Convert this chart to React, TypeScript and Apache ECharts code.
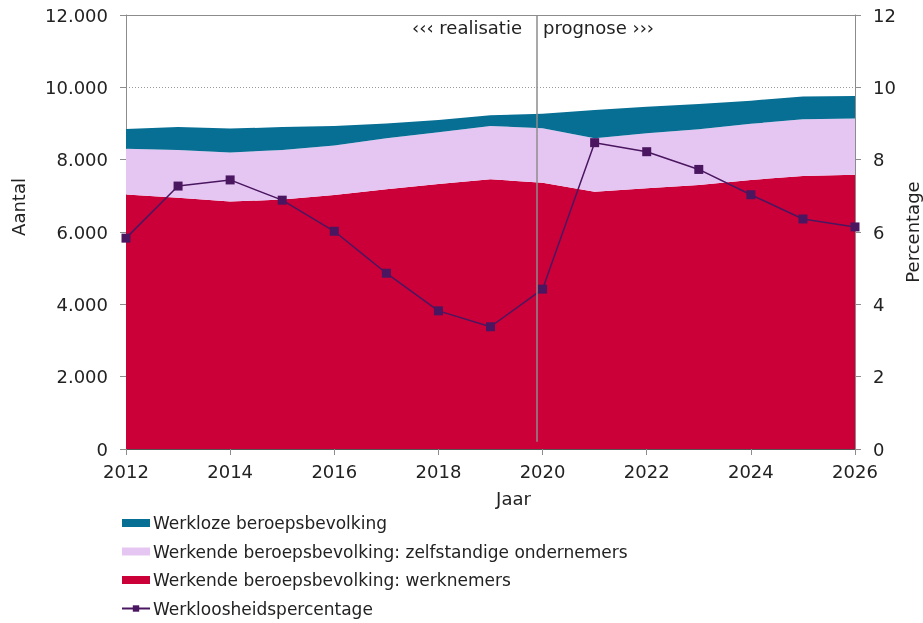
import React, { useEffect, useRef } from "react";
import * as echarts from "echarts";

const years = ["2012", "2013", "2014", "2015", "2016", "2017", "2018", "2019", "2020", "2021", "2022", "2023", "2024", "2025", "2026"];
const werknemers = [7040, 6950, 6840, 6900, 7020, 7180, 7330, 7460, 7360, 7110, 7210, 7300, 7440, 7550, 7580];
const zelfstandigen = [1260, 1320, 1360, 1370, 1370, 1410, 1430, 1470, 1510, 1480, 1520, 1540, 1550, 1570, 1560];
const werklozen = [550, 630, 660, 630, 540, 410, 340, 300, 400, 780, 730, 700, 640, 630, 620];
const percentage = [5.83, 7.27, 7.44, 6.88, 6.02, 4.86, 3.82, 3.38, 4.42, 8.47, 8.22, 7.73, 7.03, 6.36, 6.14];
const dividerYear = 2019.88;
const seriesNames = [
  "Werkloze beroepsbevolking",
  "Werkende beroepsbevolking: zelfstandige ondernemers",
  "Werkende beroepsbevolking: werknemers",
  "Werkloosheidspercentage",
];
const annotations = ["‹‹‹ realisatie", "prognose ›››"];
const leftTicks = { min: 0, max: 12000, interval: 2000 };
const rightTicks = { min: 0, max: 12, interval: 2 };

const FONT = "DejaVu Sans";
const TXT = "#222";
const AX = "#8c8c8c";

export default function App() {
  const ref = useRef<HTMLDivElement>(null);
  useEffect(() => {
    if (!ref.current) return;
    const chart = echarts.init(ref.current, undefined, { renderer: "svg" });
    const fmtThousands = (v: number) =>
      String(v).replace(/\B(?=(\d{3})+(?!\d))/g, ".");
    const firstYear = Number(years[0]);
    const lastYear = Number(years[years.length - 1]);
    chart.setOption({
      animation: false,
      textStyle: { fontFamily: FONT, color: TXT },
      grid: {
        left: 126,
        right: 68,
        top: 15,
        bottom: 174,
        containLabel: false,
        outerBoundsMode: "none",
      },
      xAxis: [
        {
          type: "category",
          data: years,
          boundaryGap: false,
          name: "Jaar",
          nameLocation: "middle",
          nameGap: 40,
          nameMoveOverlap: false,
          nameTextStyle: { fontSize: 18, color: TXT, fontFamily: FONT, padding: [0, 0, 0, 46] },
          axisLine: { show: true, onZero: false, lineStyle: { color: "#555", width: 1 } },
          axisTick: { show: true, length: 6, interval: 1, lineStyle: { color: AX } },
          axisLabel: { fontSize: 18, color: TXT, fontFamily: FONT, margin: 13, interval: 1 },
          splitLine: { show: false },
        },
        {
          type: "value",
          position: "top",
          min: firstYear,
          max: lastYear,
          axisLine: { show: true, onZero: false, lineStyle: { color: AX, width: 1 } },
          axisTick: { show: false },
          axisLabel: { show: false },
          splitLine: { show: false },
        },
      ],
      yAxis: [
        {
          type: "value",
          ...leftTicks,
          name: "Aantal",
          nameLocation: "middle",
          nameRotate: 90,
          nameGap: 99,
          nameMoveOverlap: false,
          nameTextStyle: { fontSize: 18, color: TXT, fontFamily: FONT, padding: [0, 0, 0, 50] },
          axisLine: { show: true, lineStyle: { color: AX, width: 1 } },
          axisTick: { show: true, length: 6, lineStyle: { color: AX } },
          axisLabel: { fontSize: 18, color: TXT, fontFamily: FONT, margin: 18, formatter: fmtThousands },
          splitLine: { show: true, lineStyle: { color: "#999", type: [1, 2], width: 1 } },
        },
        {
          type: "value",
          ...rightTicks,
          position: "right",
          name: "Percentage",
          nameLocation: "middle",
          nameRotate: 90,
          nameGap: 48,
          nameMoveOverlap: false,
          nameTextStyle: { fontSize: 18, color: TXT, fontFamily: FONT },
          axisLine: { show: true, lineStyle: { color: AX, width: 1 } },
          axisTick: { show: true, length: 6, lineStyle: { color: AX } },
          axisLabel: { fontSize: 18, color: TXT, fontFamily: FONT, margin: 18 },
          splitLine: { show: false },
        },
      ],
      legend: {
        orient: "vertical",
        left: 121,
        top: 513,
        padding: 0,
        itemWidth: 28,
        itemHeight: 8,
        itemGap: 8.5,
        textStyle: { fontSize: 17, lineHeight: 20, color: TXT, fontFamily: FONT, padding: [0, 0, 0, -2] },
        data: [
          { name: seriesNames[0], icon: "rect" },
          { name: seriesNames[1], icon: "rect" },
          { name: seriesNames[2], icon: "rect" },
          { name: seriesNames[3] },
        ],
      },
      graphic: [
        {
          type: "text",
          right: 923 - 522,
          top: 18,
          style: { text: annotations[0], fontSize: 18, fontFamily: FONT, fill: TXT },
        },
        {
          type: "text",
          left: 543,
          top: 18,
          style: { text: annotations[1], fontSize: 18, fontFamily: FONT, fill: TXT },
        },
      ],
      series: [
        {
          name: seriesNames[2],
          type: "line",
          stack: "total",
          data: werknemers,
          symbol: "none",
          lineStyle: { width: 0 },
          areaStyle: { color: "#CC0038", opacity: 1 },
          itemStyle: { color: "#CC0038" },
          z: 1,
        },
        {
          name: seriesNames[1],
          type: "line",
          stack: "total",
          data: zelfstandigen,
          symbol: "none",
          lineStyle: { width: 0 },
          areaStyle: { color: "#E5C6F2", opacity: 1 },
          itemStyle: { color: "#E5C6F2" },
          z: 1,
        },
        {
          name: seriesNames[0],
          type: "line",
          stack: "total",
          data: werklozen,
          symbol: "none",
          lineStyle: { width: 0 },
          areaStyle: { color: "#076E94", opacity: 1 },
          itemStyle: { color: "#076E94" },
          z: 1,
        },
        {
          name: seriesNames[3],
          type: "line",
          xAxisIndex: 1,
          yAxisIndex: 1,
          data: years.map((y, i) => [Number(y), percentage[i]]),
          symbol: "rect",
          symbolSize: 9,
          lineStyle: { color: "#4A1660", width: 1.5 },
          itemStyle: { color: "#4A1660" },
          z: 3,
          markLine: {
            silent: true,
            symbol: "none",
            label: { show: false },
            lineStyle: { color: "#8c8c8c", type: "solid", width: 1.5 },
            data: [[{ coord: [dividerYear, 0.2] }, { coord: [dividerYear, 12] }]],
          },
        },
      ],
    });
    return () => chart.dispose();
  }, []);
  return (
    <div
      ref={ref}
      style={{ position: "fixed", left: 0, top: 0, width: 923, height: 623 }}
    />
  );
}
